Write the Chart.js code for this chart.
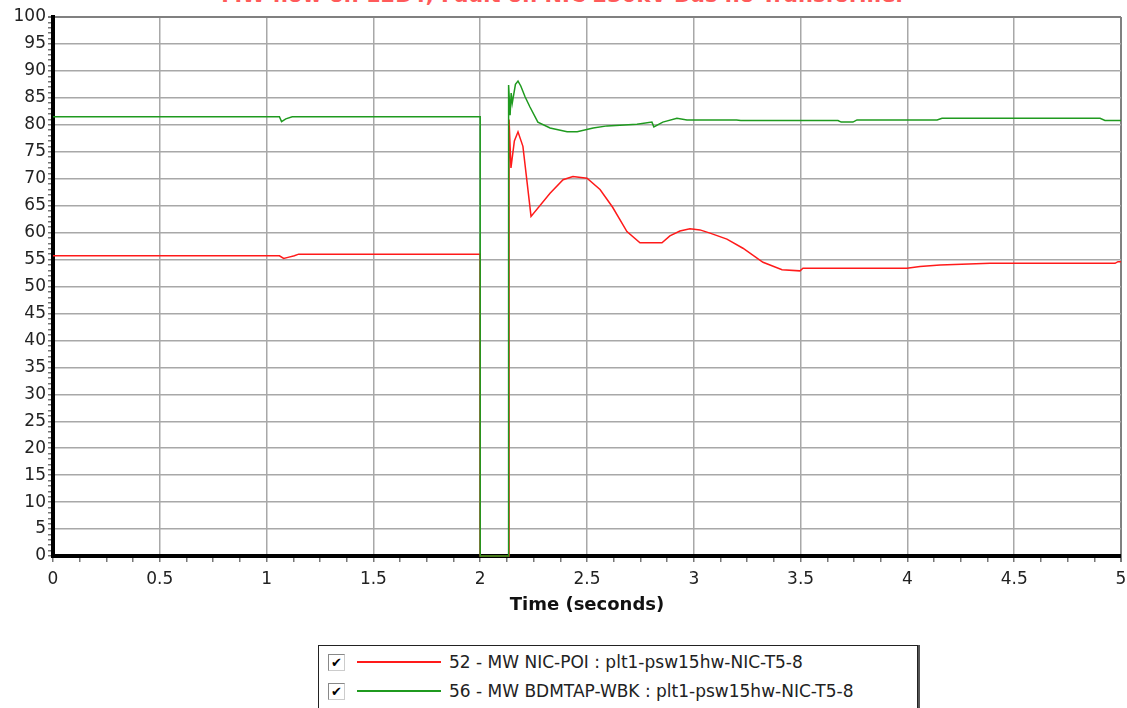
<!DOCTYPE html>
<html>
<head>
<meta charset="utf-8">
<script src="https://cdn.jsdelivr.net/npm/chart.js@4.4.0/dist/chart.umd.min.js"></script>
<style>
  body { margin: 0; background: #fff; width: 1127px; height: 708px; overflow: hidden; position: relative; font-family: "DejaVu Sans", sans-serif; }
  #title { position: absolute; top: -17px; left: 0; width: 1127px; text-align: center; color: #ff5a5a; font-weight: bold; font-size: 21px; white-space: nowrap; }
  #plot { position: absolute; left: 0; top: 0; }
  #legend { position: absolute; left: 318px; top: 645px; width: 598px; height: 80px; border: 1px solid #222; box-shadow: 2px 0 0 #555; background: #fff; }
  .row { position: absolute; left: 9px; height: 20px; display: flex; align-items: center; font-size: 17px; color: #222; }
  .box { width: 17px; height: 17px; border: 1px solid #888; border-right-color: #ccc; border-bottom-color: #ccc; box-sizing: border-box; font-size: 13px; line-height: 15px; text-align: center; color: #000; margin-right: 12px; }
  .swatch { width: 84px; height: 1.5px; margin-right: 8px; }
</style>
</head>
<body>
<div id="title">MW flow on 12B4, Fault on NIC 230kV Bus no Transformer</div>
<canvas id="plot" width="1127" height="620"></canvas>
<div id="legend">
  <div class="row" style="top:6px"><div class="box">✔</div><div class="swatch" style="background:#ff1a1a"></div><span id="lab0"></span></div>
  <div class="row" style="top:35px"><div class="box">✔</div><div class="swatch" style="background:#1f9a1f"></div><span id="lab1"></span></div>
</div>
<script>
const seriesNames = [
  "52 - MW NIC-POI : plt1-psw15hw-NIC-T5-8",
  "56 - MW BDMTAP-WBK : plt1-psw15hw-NIC-T5-8",
];

// time (s) and MW values
const redTime = [0, 1.06, 1.08, 1.1, 1.13, 1.15, 2.0, 2.0, 2.135, 2.135, 2.144, 2.16, 2.177, 2.2, 2.238, 2.327, 2.388, 2.434, 2.5, 2.561, 2.62, 2.687, 2.748, 2.851, 2.888, 2.935, 2.982, 3.029, 3.076, 3.155, 3.23, 3.324, 3.413, 3.497, 3.511, 3.998, 4.059, 4.153, 4.387, 4.972, 4.986, 5.0];
const redMW = [55.7, 55.7, 55.2, 55.4, 55.7, 56.0, 56.0, 0, 0, 81, 72, 77, 78.7, 76, 63, 67.3, 69.8, 70.4, 70.1, 68, 64.7, 60.2, 58.1, 58.1, 59.4, 60.3, 60.7, 60.5, 59.9, 58.8, 57.1, 54.5, 53.1, 52.9, 53.4, 53.4, 53.7, 54.0, 54.3, 54.3, 54.6, 54.6];

const greenTime = [0, 1.06, 1.07, 1.09, 1.12, 2.0, 2.0, 2.133, 2.133, 2.14, 2.145, 2.15, 2.165, 2.177, 2.19, 2.21, 2.233, 2.27, 2.327, 2.407, 2.454, 2.529, 2.594, 2.734, 2.804, 2.813, 2.855, 2.921, 2.968, 3.2, 3.22, 3.675, 3.69, 3.745, 3.764, 4.139, 4.162, 4.902, 4.925, 5.0];
const greenMW = [81.5, 81.5, 80.6, 81.1, 81.5, 81.5, 0, 0, 87.4, 81.8, 85.9, 84, 87.5, 88.1, 87.2, 85.2, 83.3, 80.5, 79.4, 78.7, 78.7, 79.4, 79.8, 80.1, 80.5, 79.6, 80.5, 81.2, 80.9, 80.9, 80.8, 80.8, 80.5, 80.5, 80.9, 80.9, 81.2, 81.2, 80.8, 80.8];

const xMin = 0, xMax = 5, xMajor = 0.5, xMinor = 0.125;
const yMin = 0, yMax = 100, yMajor = 5, yMinor = 1;
const xTitle = "Time (seconds)";

document.getElementById("lab0").innerText = seriesNames[0];
document.getElementById("lab1").innerText = seriesNames[1];

function toPoints(ts, vs) {
  return ts.map((t, i) => ({ x: t, y: vs[i] }));
}

function isMajor(v, step) {
  return Math.abs(v / step - Math.round(v / step)) < 1e-6;
}

const gridColor = (step, max) => (ctx) => {
  const v = ctx.tick ? ctx.tick.value : 0;
  if (!isMajor(v, step)) return "rgba(0,0,0,0)";
  return v === max ? "#808080" : "#a8a8a8";
};

const tickFont = { family: "DejaVu Sans", size: 17 };

new Chart(document.getElementById("plot"), {
  type: "line",
  data: {
    datasets: [
      {
        label: seriesNames[0],
        data: toPoints(redTime, redMW),
        borderColor: "#ff1a1a",
        borderWidth: 1.5,
        pointRadius: 0,
        tension: 0,
        clip: false,
        order: 1,
      },
      {
        label: seriesNames[1],
        data: toPoints(greenTime, greenMW),
        borderColor: "#1f9a1f",
        borderWidth: 1.5,
        pointRadius: 0,
        tension: 0,
        clip: false,
        order: 0,
      },
    ],
  },
  options: {
    responsive: false,
    animation: false,
    devicePixelRatio: 1,
    layout: { padding: { top: 17, right: 0, left: 0, bottom: 0 } },
    plugins: { legend: { display: false }, tooltip: { enabled: false } },
    scales: {
      x: {
        type: "linear",
        min: xMin,
        max: xMax,
        afterFit: (s) => { s.height = 64; s.paddingRight = 6; },
        afterBuildTicks: (s) => {
          const t = [];
          for (let v = xMin; v <= xMax + 1e-9; v += xMinor) t.push({ value: +v.toFixed(3) });
          s.ticks = t;
        },
        ticks: {
          autoSkip: false,
          maxRotation: 0,
          padding: 7,
          color: "#222",
          font: tickFont,
          callback: (v) => (isMajor(v, xMajor) ? String(+v.toFixed(1)) : ""),
        },
        grid: {
          color: gridColor(xMajor, xMax),
          lineWidth: (ctx) => (ctx.tick && ctx.tick.value === xMax ? 2 : 1.5),
          tickColor: "#777",
          tickLength: 6,
        },
        border: { color: "#000", width: 4 },
        title: {
          display: true,
          text: xTitle,
          color: "#111",
          font: { family: "DejaVu Sans", size: 18, weight: "bold" },
          padding: { top: 0, bottom: 4 },
        },
      },
      y: {
        type: "linear",
        min: yMin,
        max: yMax,
        afterFit: (s) => { s.width = 53; },
        afterBuildTicks: (s) => {
          const t = [];
          for (let v = yMin; v <= yMax; v += yMinor) t.push({ value: v });
          s.ticks = t;
        },
        ticks: {
          autoSkip: false,
          padding: 2,
          color: "#222",
          font: tickFont,
          callback: (v) => (isMajor(v, yMajor) ? String(v) : ""),
        },
        grid: {
          color: gridColor(yMajor, yMax),
          lineWidth: (ctx) => (ctx.tick && ctx.tick.value === yMax ? 2 : 1.5),
          tickColor: "#777",
          tickLength: 5,
        },
        border: { color: "#000", width: 4 },
      },
    },
  },
});
</script>
</body>
</html>
